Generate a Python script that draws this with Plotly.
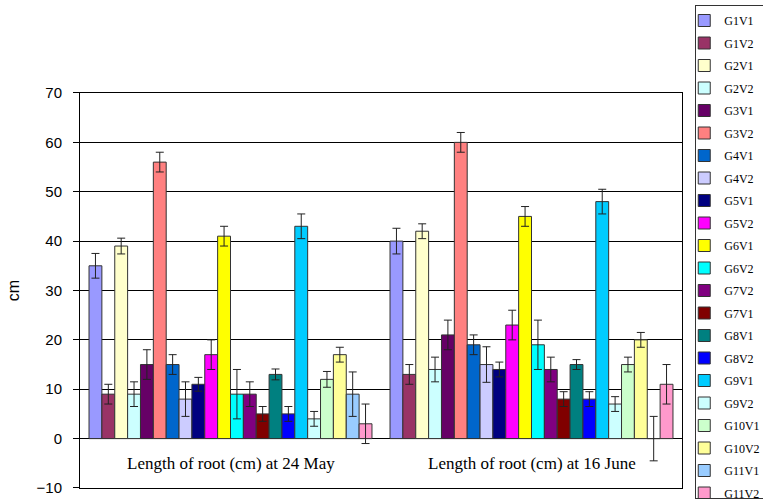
import plotly.graph_objects as go

categories = ["Length of root (cm) at 24 May", "Length of root (cm) at 16 June"]
series_names = ["G1V1", "G1V2", "G2V1", "G2V2", "G3V1", "G3V2", "G4V1", "G4V2",
                "G5V1", "G5V2", "G6V1", "G6V2", "G7V2", "G7V1", "G8V1", "G8V2",
                "G9V1", "G9V2", "G10V1", "G10V2", "G11V1", "G11V2"]
may_values = [35, 9, 39, 9, 15, 56, 15, 8, 11, 17, 41, 9, 9, 5, 13, 5, 43, 4, 12, 17, 9, 3]
june_values = [40, 13, 42, 14, 21, 60, 19, 15, 14, 23, 45, 19, 14, 8, 15, 8, 48, 7, 15, 20, 0, 11]
may_errors = [2.5, 2, 1.6, 2.5, 3, 2, 2, 3.5, 1.4, 3, 2, 5, 2.5, 1.5, 1.1, 1.5, 2.5, 1.5, 1.6, 1.5, 4.5, 4]
june_errors = [2.6, 2, 1.5, 2.5, 3, 2, 2, 3.6, 1.5, 3, 2, 5, 2.5, 1.5, 1, 1.5, 2.5, 1.5, 1.5, 1.5, 4.5, 4]
colors = ["#9999FF", "#993366", "#FFFFCC", "#CCFFFF", "#660066", "#FF8080", "#0066CC", "#CCCCFF",
          "#000080", "#FF00FF", "#FFFF00", "#00FFFF", "#800080", "#800000", "#008080", "#0000FF",
          "#00CCFF", "#CCFFFF", "#CCFFCC", "#FFFF99", "#99CCFF", "#FF99CC"]
y_ticks = [-10, 0, 10, 20, 30, 40, 50, 60, 70]

fig = go.Figure()
for i, name in enumerate(series_names):
    fig.add_trace(go.Bar(
        x=categories,
        y=[may_values[i], june_values[i]],
        name=name,
        legendgroup=name,
        marker=dict(color=colors[i], line=dict(color="#333333", width=1)),
        error_y=dict(type="data", array=[may_errors[i], june_errors[i]],
                     symmetric=True, color="#222222", thickness=1, width=4),
    ))

for i, cat in enumerate(categories):
    fig.add_annotation(x=cat, y=-5, xref="x", yref="y", text=cat, showarrow=False,
                       font=dict(family="Liberation Serif", size=17, color="black"))

fig.update_layout(
    width=763, height=504,
    margin=dict(l=80, r=81, t=5, b=5, autoexpand=False),
    paper_bgcolor="white", plot_bgcolor="white",
    barmode="group", bargap=0.06, bargroupgap=0,
    showlegend=True,
    legend=dict(x=1.022, xanchor="left", y=1.0, yanchor="top",
                bordercolor="#333333", borderwidth=1, bgcolor="white",
                font=dict(family="Liberation Serif", size=12, color="black"),
                tracegroupgap=3.5, traceorder="grouped", itemwidth=30, indentation=-12),
    yaxis=dict(domain=[0.0223, 0.8219],
               range=[-10, 70], tickvals=y_ticks, showgrid=True, gridcolor="#000000", gridwidth=1,
               zeroline=True, zerolinecolor="#000000", zerolinewidth=1,
               showline=True, linecolor="#000000", linewidth=1, mirror=True,
               ticks="outside", ticklen=6, tickcolor="#000000", ticklabelstandoff=8,
               tickfont=dict(family="Liberation Sans", size=15, color="black"),
               title=dict(text="cm", font=dict(family="Liberation Sans", size=16, color="black"), standoff=12)),
    xaxis=dict(showticklabels=False, showline=True, linecolor="#000000", linewidth=1, mirror=True,
               ticks=""),
)

fig.write_html("out.html", post_script="document.body.style.margin='0';",
               config={"displayModeBar": False})
